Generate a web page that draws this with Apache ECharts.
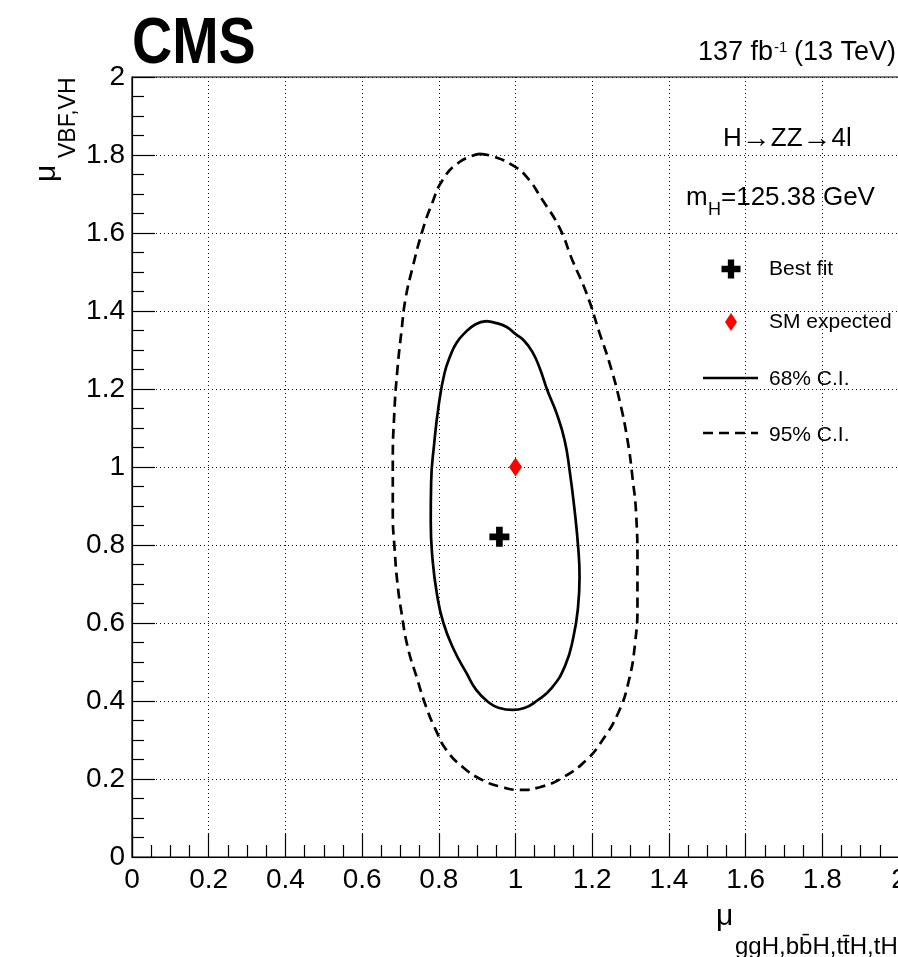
<!DOCTYPE html>
<html>
<head>
<meta charset="utf-8">
<script src="https://cdn.jsdelivr.net/npm/echarts@6/dist/echarts.min.js"></script>
<style>html,body{margin:0;padding:0;background:#fff;}#chart{width:898px;height:957px;}</style>
</head>
<body>
<div id="chart"></div>
<script>
// ---- data ----
const xTicks = [0, 0.2, 0.4, 0.6, 0.8, 1, 1.2, 1.4, 1.6, 1.8, 2];
const yTicks = [0, 0.2, 0.4, 0.6, 0.8, 1, 1.2, 1.4, 1.6, 1.8, 2];
const bestFit = [[0.958, 0.821]];
const smExpected = [[1.0, 1.0]];
const contour68 = [
  [0.924,1.374],[0.950,1.369],[0.977,1.359],[1.000,1.341],[1.023,1.323],[1.044,1.295],
  [1.063,1.254],[1.083,1.197],[1.107,1.138],[1.128,1.069],[1.141,0.992],[1.154,0.890],
  [1.164,0.787],[1.167,0.718],[1.163,0.640],[1.151,0.564],[1.130,0.492],[1.094,0.433],
  [1.055,0.400],[1.023,0.382],[0.992,0.377],[0.958,0.382],[0.932,0.395],[0.898,0.428],
  [0.872,0.472],[0.840,0.530],[0.812,0.600],[0.795,0.675],[0.784,0.760],[0.779,0.860],
  [0.780,0.960],[0.788,1.060],[0.800,1.160],[0.815,1.241],[0.830,1.285],[0.846,1.318],
  [0.866,1.342],[0.896,1.366],[0.924,1.374]
];
const contour95 = [
  [0.906,1.803],[0.940,1.797],[0.992,1.774],[1.029,1.744],[1.070,1.685],[1.115,1.613],
  [1.148,1.531],[1.185,1.446],[1.219,1.344],[1.245,1.267],[1.271,1.172],[1.292,1.069],
  [1.305,0.974],[1.315,0.872],[1.318,0.754],[1.318,0.651],[1.312,0.550],[1.295,0.450],
  [1.268,0.370],[1.227,0.300],[1.185,0.249],[1.122,0.203],[1.063,0.179],[1.010,0.172],
  [0.966,0.179],[0.914,0.197],[0.862,0.231],[0.820,0.274],[0.792,0.326],[0.767,0.385],
  [0.742,0.462],[0.719,0.538],[0.703,0.625],[0.692,0.703],[0.685,0.787],[0.680,0.882],
  [0.680,1.010],[0.684,1.138],[0.692,1.249],[0.703,1.351],[0.713,1.430],[0.732,1.513],
  [0.758,1.608],[0.781,1.672],[0.810,1.736],[0.854,1.782],[0.906,1.803]
];
const legendLabels = ['Best fit', 'SM expected', '68% C.I.', '95% C.I.'];

// ---- chart ----
const FONT = "'Liberation Sans', Arial, Helvetica, sans-serif";
const chart = echarts.init(document.getElementById('chart'));
const crossPath = 'path://M2,0H4V2H6V4H4V6H2V4H0V2H2Z';

function axisCommon(isX) {
  return {
    type: 'value', min: 0, max: 2, interval: 0.2,
    axisLine: { show: true, onZero: false, lineStyle: { color: '#000', width: 1.2 } },
    axisTick: { show: true, inside: true, length: 23, lineStyle: { color: '#000', width: 1.2 } },
    minorTick: { show: true, splitNumber: 4, length: 12, lineStyle: { color: '#000', width: 1.2 } },
    splitLine: { show: true, lineStyle: { color: '#111', width: 1, type: [1, 3] } },
    axisLabel: {
      show: true, color: '#000', fontFamily: FONT, fontSize: 28,
      margin: isX ? 9 : 7, showMinLabel: true, showMaxLabel: true, hideOverlap: false,
      formatter: function (v) { return String(Math.round(v * 10) / 10); }
    }
  };
}

function crossPoly(cx, cy, s) {
  const a = s / 2, b = s / 6;
  return [[cx - b, cy - a], [cx + b, cy - a], [cx + b, cy - b], [cx + a, cy - b], [cx + a, cy + b],
          [cx + b, cy + b], [cx + b, cy + a], [cx - b, cy + a], [cx - b, cy + b], [cx - a, cy + b],
          [cx - a, cy - b], [cx - b, cy - b]];
}

const option = {
  animation: false,
  backgroundColor: '#fff',
  grid: { left: 132, top: 77, width: 767, height: 780, show: true, borderColor: '#000', borderWidth: 1.2,
          containLabel: false, outerBoundsMode: 'none' },
  xAxis: axisCommon(true),
  yAxis: axisCommon(false),
  series: [
    { type: 'line', data: contour95, showSymbol: false, symbol: 'none', smooth: 0.5,
      lineStyle: { color: '#000', width: 2.7, type: [10, 6] }, z: 3 },
    { type: 'line', data: contour68, showSymbol: false, symbol: 'none', smooth: 0.5,
      lineStyle: { color: '#000', width: 2.7 }, z: 3 },
    { type: 'scatter', data: bestFit, symbol: crossPath, symbolSize: 20,
      itemStyle: { color: '#000', opacity: 1 }, z: 4 },
    { type: 'scatter', data: smExpected, symbol: 'diamond', symbolSize: [13, 19],
      itemStyle: { color: '#ff0000', opacity: 1 }, z: 4 }
  ],
  graphic: [
    { type: 'text', x: 132, y: 77, scaleX: 0.87, style: { text: 'CMS', font: 'bold 64px ' + FONT, fill: '#000', align: 'left', verticalAlign: 'bottom' } },
    { type: 'text', x: 698, y: 66, style: { text: '137 fb', font: '27px ' + FONT, fill: '#000', align: 'left', verticalAlign: 'bottom' } },
    { type: 'text', x: 774, y: 55, style: { text: '-1', font: '15px ' + FONT, fill: '#000', align: 'left', verticalAlign: 'bottom' } },
    { type: 'text', x: 794, y: 66, style: { text: '(13 TeV)', font: '27px ' + FONT, fill: '#000', align: 'left', verticalAlign: 'bottom' } },
    // y-axis title
    { type: 'text', x: 62, y: 182, rotation: Math.PI / 2, style: { text: 'μ', font: '30px ' + FONT, fill: '#000', align: 'left', verticalAlign: 'bottom' } },
    { type: 'text', x: 80, y: 158, rotation: Math.PI / 2, style: { text: 'VBF,VH', font: '23px ' + FONT, fill: '#000', align: 'left', verticalAlign: 'bottom' } },
    // x-axis title
    { type: 'text', x: 716, y: 932, style: { text: 'μ', font: '30px ' + FONT, fill: '#000', align: 'left', verticalAlign: 'bottom' } },
    { type: 'text', x: 735, y: 959, style: { text: 'ggH,bb\u0304H,tt\u0304H,tH', font: '24px ' + FONT, fill: '#000', align: 'left', verticalAlign: 'bottom' } },
    // header texts in plot
    { type: 'text', x: 723, y: 139, style: { text: '{a|H}{r|\u2192}{a|ZZ}{r|\u2192}{a|4l}', align: 'left', verticalAlign: 'middle',
        rich: { a: { fontSize: 26, fontFamily: FONT, fill: '#000', color: '#000' }, r: { fontSize: 29, fontFamily: FONT, fill: '#000', color: '#000' } } } },
    { type: 'text', x: 686, y: 198, style: { text: 'm', font: '26px ' + FONT, fill: '#000', align: 'left', verticalAlign: 'middle' } },
    { type: 'text', x: 708, y: 210, style: { text: 'H', font: '18px ' + FONT, fill: '#000', align: 'left', verticalAlign: 'middle' } },
    { type: 'text', x: 721, y: 198, style: { text: '=125.38 GeV', font: '26px ' + FONT, fill: '#000', align: 'left', verticalAlign: 'middle' } },
    // legend
    { type: 'polygon', shape: { points: crossPoly(731, 269, 19) }, style: { fill: '#000' } },
    { type: 'polygon', shape: { points: [[731, 313], [737, 322], [731, 331], [725, 322]] }, style: { fill: '#ff0000' } },
    { type: 'line', shape: { x1: 703, y1: 378, x2: 758, y2: 378 }, style: { stroke: '#000', lineWidth: 2.7 } },
    { type: 'line', shape: { x1: 703, y1: 433, x2: 758, y2: 433 }, style: { stroke: '#000', lineWidth: 2.7, lineDash: [10, 6] } },
    { type: 'text', x: 769, y: 269, style: { text: legendLabels[0], font: '21px ' + FONT, fill: '#000', align: 'left', verticalAlign: 'middle' } },
    { type: 'text', x: 769, y: 322, style: { text: legendLabels[1], font: '21px ' + FONT, fill: '#000', align: 'left', verticalAlign: 'middle' } },
    { type: 'text', x: 769, y: 379, style: { text: legendLabels[2], font: '21px ' + FONT, fill: '#000', align: 'left', verticalAlign: 'middle' } },
    { type: 'text', x: 769, y: 435, style: { text: legendLabels[3], font: '21px ' + FONT, fill: '#000', align: 'left', verticalAlign: 'middle' } }
  ]
};
chart.setOption(option);
</script>
</body>
</html>
